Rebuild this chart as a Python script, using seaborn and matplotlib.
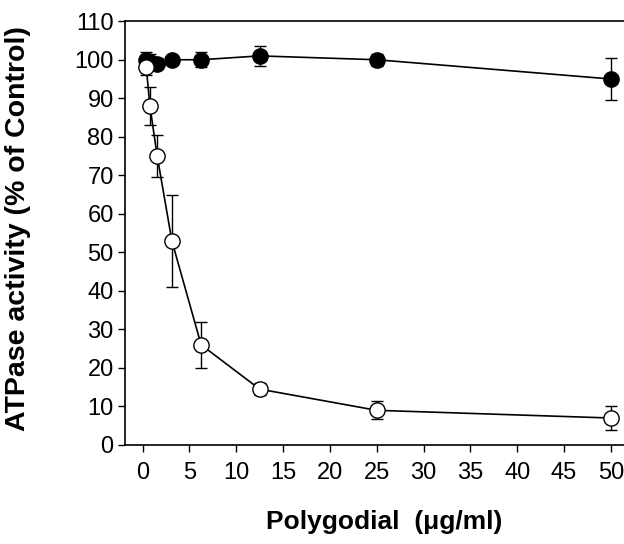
import matplotlib
matplotlib.use("Agg")
import matplotlib.pyplot as plt
import seaborn as sns
import pandas as pd

conc = [0.39, 0.78, 1.56, 3.125, 6.25, 12.5, 25, 50]
filled_vals = [100.0, 99.5, 99.0, 100.0, 100.0, 101.0, 100.0, 95.0]
filled_err = [2.0, 2.0, 1.5, 1.0, 2.0, 2.5, 1.5, 5.5]
open_vals = [98.0, 88.0, 75.0, 53.0, 26.0, 14.5, 9.0, 7.0]
open_err = [2.0, 5.0, 5.5, 12.0, 6.0, 1.5, 2.3, 3.0]
xticks = [0, 5, 10, 15, 20, 25, 30, 35, 40, 45, 50]
yticks = [0, 10, 20, 30, 40, 50, 60, 70, 80, 90, 100, 110]

sns.set_theme(style="ticks")
plt.rcParams['font.family'] = ['Liberation Sans', 'DejaVu Sans']
plt.rcParams['text.color'] = 'black'
plt.rcParams['axes.labelcolor'] = 'black'

df = pd.DataFrame({"x": conc + conc,
                   "y": filled_vals + open_vals,
                   "s": ["filled"] * len(conc) + ["open"] * len(conc)})

fig = plt.figure(figsize=(6.24, 5.44), dpi=100)
ax = fig.add_axes([0.2, 0.182, 0.8, 0.779])

for i, (key, vals, err, fc) in enumerate([("filled", filled_vals, filled_err, "black"),
                                          ("open", open_vals, open_err, "white")]):
    ax.errorbar(conc, vals, yerr=err, fmt="none", ecolor="black",
                elinewidth=1, capsize=4, capthick=1, zorder=2 + 2 * i)
    sns.lineplot(data=df[df.s == key], x="x", y="y", ax=ax, color="black",
                 lw=1.2, marker="o", markersize=11, markerfacecolor=fc,
                 markeredgecolor="black", markeredgewidth=1, zorder=3 + 2 * i,
                 errorbar=None)

ax.set_xlim(-1.9, 51.4)
ax.set_ylim(0, 110)
ax.set_xticks(xticks)
ax.set_yticks(yticks)
ax.tick_params(axis="both", labelsize=17, direction="out", length=5, width=1,
               colors="black", labelcolor="black")
ax.tick_params(axis="x", pad=7)
ax.tick_params(axis="y", pad=3)
for sp in ["left", "bottom", "top"]:
    ax.spines[sp].set_color("black")
    ax.spines[sp].set_linewidth(1.2)
ax.spines["right"].set_visible(False)

ax.set_xlabel("Polygodial  (\u03bcg/ml)", fontsize=19, fontweight="bold", va="center")
ax.set_ylabel("ATPase activity (% of Control)", fontsize=20.5, fontweight="bold", va="center")
ax.xaxis.set_label_coords(0.52, -0.182)
ax.yaxis.set_label_coords(-0.214, 0.51)
if ax.get_legend():
    ax.get_legend().remove()

fig.savefig("out.png", dpi=100)
